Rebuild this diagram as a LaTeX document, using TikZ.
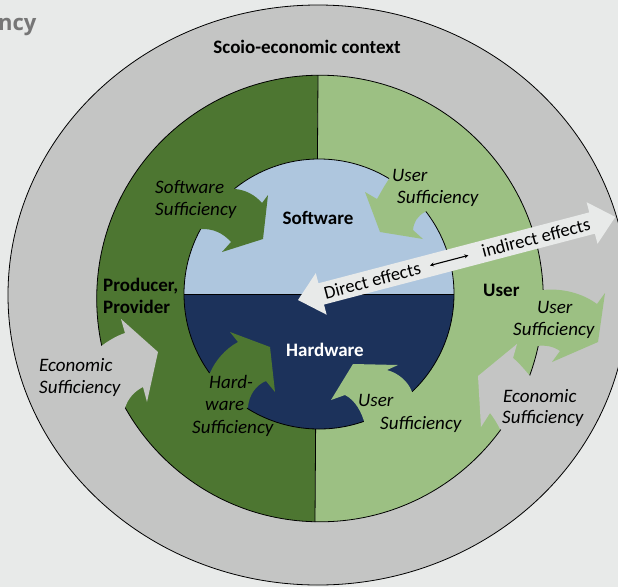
\documentclass[tikz,border=0pt]{standalone}
\usepackage{fontspec}
\setmainfont{Carlito}
\newfontfamily\headfont{Open Sans}
\usetikzlibrary{arrows.meta}
\definecolor{bgc}{RGB}{232,234,233}
\definecolor{ringgray}{RGB}{196,197,196}
\definecolor{dkgreen}{RGB}{77,118,49}
\definecolor{ltgreen}{RGB}{156,192,131}
\definecolor{ltblue}{RGB}{174,198,222}
\definecolor{navyblue}{RGB}{28,50,91}
\definecolor{headgray}{RGB}{118,118,118}
\tikzset{
  itl/.style={font=\fontsize{19}{22}\selectfont\itshape, inner sep=0pt, anchor=base west},
  bdl/.style={font=\fontsize{19}{22}\selectfont\bfseries, inner sep=0pt, anchor=base west},
  fxl/.style={font=\fontsize{18.5}{22}\selectfont, inner sep=0pt, transform shape},
  outline/.style={draw=black, line width=0.8pt}
}
\begin{document}
\begin{tikzpicture}[x=1pt,y=-1pt]
\useasboundingbox (0,0) rectangle (618,587);
\begin{scope}
\clip (0,0) rectangle (618,587);
\fill[bgc] (0,0) rectangle (618,587);
% outer ring
\fill[ringgray] (318,295) ellipse [x radius=310pt, y radius=290pt];
\draw[outline] (318,295) ellipse [x radius=310pt, y radius=290pt];
% green ring halves
\begin{scope}
\clip (320,298.5) circle [radius=223.3pt];
\fill[dkgreen] (0,0) -- (318,0) -- (318,75) -- (315,522) -- (315,600) -- (0,600) -- cycle;
\fill[ltgreen] (618,0) -- (318,0) -- (318,75) -- (315,522) -- (315,600) -- (618,600) -- cycle;
\end{scope}
\draw[outline] (320,298.5) circle [radius=223.3pt];
\draw[outline] (318,75) -- (315,522);
% ring arrows
% left economic sufficiency (gray)
\fill[ringgray] (80,345) -- (100,347) .. controls (108,341) and (116,336) .. (125,333) -- (121,319) -- (158,352) -- (147,402) -- (143,387) .. controls (135,391) and (128,398) .. (125,408) -- (95,420) -- cycle;
% right user sufficiency (light green)
\fill[ltgreen] (520,285) -- (543,290) .. controls (562,288) and (582,293) .. (597,304) -- (605,293) -- (598,342) -- (552,362) -- (560,351) .. controls (553,346) and (545,345) .. (537,346) -- (520,345) -- cycle;
% right economic sufficiency (gray)
\fill[ringgray] (555,380) -- (530,376) .. controls (523,368) and (518,362) .. (513,358) -- (517,344) -- (478,376) -- (481,427) -- (490,413) .. controls (494,418) and (497,423) .. (500,429) -- (520,440) -- cycle;
% inner circle
\begin{scope}
\clip (319,294) circle [radius=135pt];
\fill[ltblue] (170,150) rectangle (470,294);
\fill[navyblue] (170,294) rectangle (470,440);
\end{scope}
\draw[outline] (184,294) -- (454,294);
\draw[outline] (319,294) circle [radius=135pt];
% inner arrows
\fill[dkgreen] (212,172) -- (235,189) .. controls (246,190) and (255,195) .. (262,203) -- (268,195) -- (263,239) -- (222,252) -- (231,242) .. controls (223,233) and (213,228.5) .. (201,229) -- (185,222) -- cycle;
\fill[ltgreen] (398,165) -- (387,182) .. controls (383,188) and (380,194) .. (377,199) -- (365,192) -- (380,232) -- (423,239) -- (413,230) .. controls (413.7,221.8) and (417.7,215.8) .. (425,212) -- (445,195) -- cycle;
\fill[dkgreen] (190,385) -- (210,373) .. controls (215,361) and (225,349) .. (238,342) -- (230,332) -- (270,347) -- (275,392) -- (266,381) .. controls (256,385) and (249,395) .. (248,407) -- (232,425) -- cycle;
\fill[ltgreen] (440,405) -- (412,392) .. controls (408,381) and (398,373) .. (387,370) -- (398,365) -- (353,364) -- (331,400) -- (345,395) .. controls (355,400) and (362,412) .. (365,425) -- (380,440) -- cycle;
% big double arrow
\begin{scope}[shift={(298,300)}, rotate=14.67]
\fill[bgc] (0,0) -- (24,-21.5) -- (24,-11) -- (304,-11) -- (304,-21.5) -- (328,0) -- (304,21.5) -- (304,11) -- (24,11) -- (24,21.5) -- cycle;
\node[fxl] (de) at (76.7,0) {Direct effects};
\node[fxl] (ie) at (246,0) {indirect effects};
\draw[{Stealth[length=4pt,width=4pt]}-{Stealth[length=4pt,width=4pt]}, line width=1.1pt, shorten <=10pt, shorten >=14pt] (de.east) -- (ie.west);
\end{scope}
% texts
\node[font=\headfont\bfseries\fontsize{22}{22}\selectfont, text=headgray, inner sep=0pt, anchor=base west] (hd) at (-2,30) {ncy};
\node[bdl, anchor=base] (ctx) at (307,53) {Scoio-economic context};
\node[itl] (ss1) at (155,193.5) {Software};
\node[itl] (ss2) at (155,215.5) {Sufficiency};
\node[bdl, anchor=base] (sw) at (318,224) {Software};
\node[itl] (us1) at (392,181) {User};
\node[itl] (us2) at (397,203) {Sufficiency};
\node[bdl] (pp1) at (103,291) {Producer,};
\node[bdl] (pp2) at (103,313) {Provider};
\node[bdl] (usr) at (483,296) {User};
\node[bdl, anchor=base, text=white] (hw) at (325,356) {Hardware};
\node[itl] (es1) at (39,371) {Economic};
\node[itl] (es2) at (39,393) {Sufficiency};
\node[itl] (hs1) at (209,388) {Hard-};
\node[itl] (hs2) at (205,410) {ware};
\node[itl] (hs3) at (192,433) {Sufficiency};
\node[itl] (ub1) at (358,406) {User};
\node[itl] (ub2) at (380,429) {Sufficiency};
\node[itl] (ur1) at (537,313) {User};
\node[itl] (ur2) at (513,335) {Sufficiency};
\node[itl] (er1) at (503,402) {Economic};
\node[itl] (er2) at (502,423) {Sufficiency};
\end{scope}
\end{tikzpicture}
\end{document}
